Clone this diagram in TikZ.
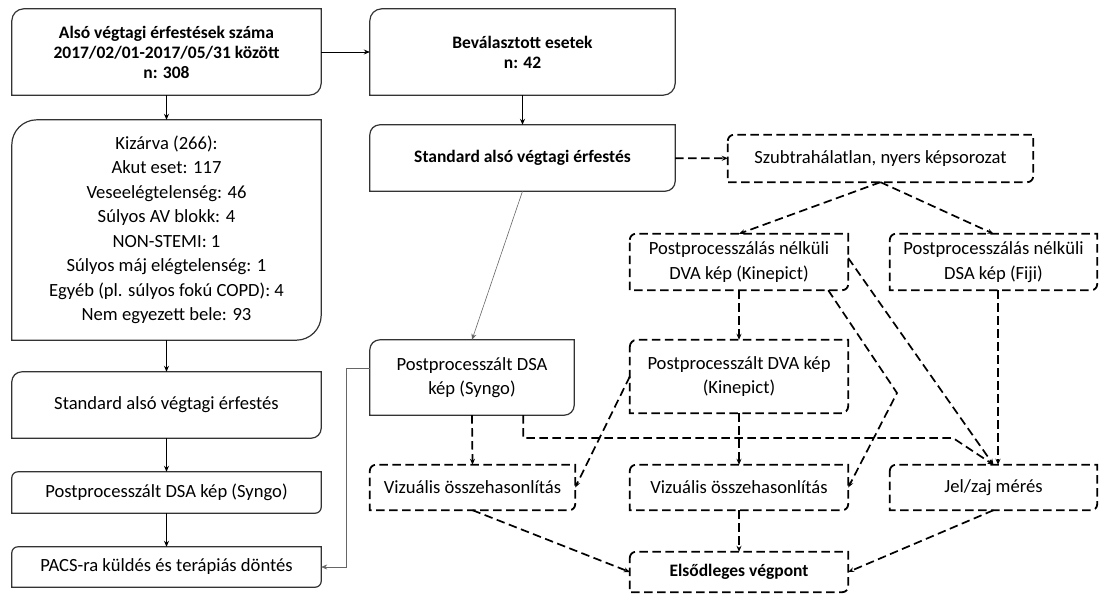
\documentclass[tikz,border=0pt]{standalone}
\usepackage{fontspec}
\setmainfont{Carlito}
\usetikzlibrary{arrows.meta}

\tikzset{
  box/.style={inner sep=0pt, align=center, font=\fontsize{18.6}{24.5}\selectfont},
  boldbox/.style={box, font=\fontsize{17.5}{20}\selectfont\bfseries},
  flow/.style={-{Stealth[length=6pt,width=5pt]}, line width=0.8pt},
  greyflow/.style={flow, line width=0.6pt, draw=black!60},
  dashflow/.style={flow, line width=1.7pt, dash pattern=on 8.5pt off 4.5pt},
  solidframe/.style={line width=1.2pt, draw=black!80},
  dashframe/.style={line width=1.8pt, dash pattern=on 8.5pt off 4.5pt},
}

\begin{document}
\begin{tikzpicture}[x=1pt, y=1pt]
            \useasboundingbox (0,0) rectangle (1099,-596);

            % left column
            \node[boldbox, minimum width=309, minimum height=86] (start) at (166.5,-52)
                {Alsó végtagi érfestések száma\\2017/02/01-2017/05/31 között\\n: 308};
            \node[box, minimum width=309, minimum height=220] (excl) at (166.5,-230)
                {Kizárva (266):\\Akut eset: 117\\Veseelégtelenség: 46\\Súlyos AV blokk: 4\\NON-STEMI: 1\\Súlyos máj elégtelenség: 1\\Egyéb (pl. súlyos fokú COPD): 4\\Nem egyezett bele: 93};
            \node[box, minimum width=309, minimum height=66] (stdl) at (166.5,-405) {Standard alsó végtagi érfestés};
            \node[box, minimum width=309, minimum height=41] (ppl) at (166.5,-492.5) {Postprocesszált DSA kép (Syngo)};
            \node[box, minimum width=309, minimum height=40] (pacs) at (166.5,-567) {PACS-ra küldés és terápiás döntés};

            % middle column
            \node[boldbox, minimum width=305, minimum height=86] (sel) at (522.5,-52) {Beválasztott esetek\\n: 42};
            \node[boldbox, minimum width=305, minimum height=66] (std) at (522.5,-158) {Standard alsó végtagi érfestés};
            \node[box, minimum width=204, minimum height=75] (ppdsa) at (472,-377.5) {Postprocesszált DSA\\kép (Syngo)};
            \node[box, minimum width=205, minimum height=45] (vis1) at (472.5,-487.5) {Vizuális összehasonlítás};

            % right part
            \node[box, minimum width=305, minimum height=47] (raw) at (880.5,-158.5) {Szubtrahálatlan, nyers képsorozat};
            \node[box, minimum width=218, minimum height=56] (dvaraw) at (739,-262) {Postprocesszálás nélküli\\DVA kép (Kinepict)};
            \node[box, minimum width=207, minimum height=56] (fiji) at (993.5,-262) {Postprocesszálás nélküli\\DSA kép (Fiji)};
            \node[box, minimum width=218, minimum height=73] (dvapp) at (739,-376.5) {Postprocesszált DVA kép\\(Kinepict)};
            \node[box, minimum width=218, minimum height=45] (vis2) at (739,-487.5) {Vizuális összehasonlítás};
            \node[box, minimum width=207, minimum height=45] (snr) at (993.5,-487.5) {Jel/zaj mérés};
            \node[boldbox, minimum width=218, minimum height=40] (endp) at (739,-572) {Elsődleges végpont};

            \coordinate (bend) at (897,-393);
            \coordinate (join) at (953,-438);

            % frames
            \foreach \n/\r in {start/12,excl/25,stdl/10,ppl/6,pacs/6,sel/12,std/10,ppdsa/10}
                \draw[solidframe] ([yshift=-\r]\n.north west) arc[start angle=180,end angle=90,radius=\r]
                    -- (\n.north east) -- ([yshift=\r]\n.south east) arc[start angle=0,end angle=-90,radius=\r]
                    -- (\n.south west) -- cycle;
            \foreach \n/\r in {raw/6,dvaraw/6,fiji/6,dvapp/7,vis1/6,vis2/6,snr/6,endp/6}
                \draw[dashframe] ([yshift=-\r]\n.north west) arc[start angle=180,end angle=90,radius=\r]
                    -- (\n.north east) -- ([yshift=\r]\n.south east) arc[start angle=0,end angle=-90,radius=\r]
                    -- (\n.south west) -- cycle;

            % solid connectors
            \draw[flow] (start) -- (excl);
            \draw[flow] (start) -- (sel);
            \draw[flow] (excl) -- (stdl);
            \draw[flow] (stdl) -- (ppl);
            \draw[flow] (ppl) -- (pacs);
            \draw[flow] (sel) -- (std);
            \draw[greyflow] (std.south) -- (ppdsa.north);
            \draw[greyflow] ([yshift=9]ppdsa.west) -- ++(-24,0) |- (pacs.east);

            % dashed connectors
            \draw[dashflow] (std) -- (raw);
            \draw[dashflow] (raw.south) -- (dvaraw.north);
            \draw[dashflow] (raw.south) -- (fiji.north);
            \draw[dashflow] (dvaraw) -- (dvapp);
            \draw[dashflow] ([yshift=4]dvaraw.east) -- (snr.north);
            \draw[dashflow] ([xshift=-20]dvaraw.south east) -- (bend) -- (vis2.east);
            \draw[dashflow] ([xshift=4.5]fiji.south) -- ([xshift=4.5]snr.north);
            \draw[dashflow] (ppdsa.south) -- (vis1.north);
            \draw[dashflow] ([xshift=-51]ppdsa.south east) |- (join) -- (snr.north);
            \draw[dashflow] (dvapp.west) -- (vis1.east);
            \draw[dashflow] (dvapp) -- (vis2);
            \draw[dashflow] (vis1.south) -- (endp.west);
            \draw[dashflow] (vis2) -- (endp);
            \draw[dashflow] (snr.south) -- (endp.east);
\end{tikzpicture}
\end{document}
